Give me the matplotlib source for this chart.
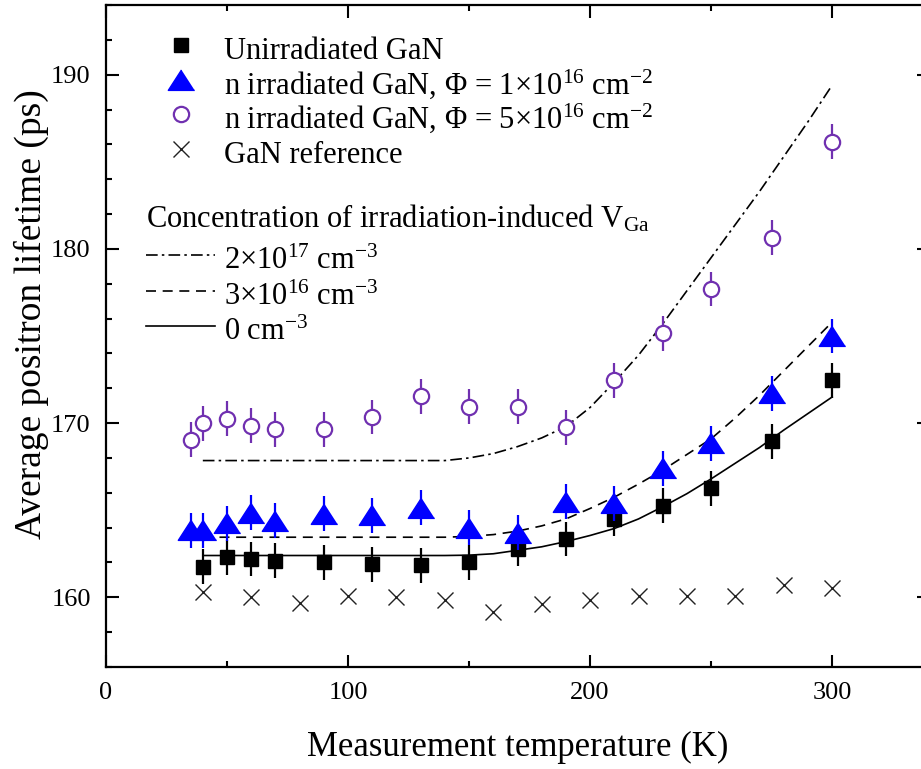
import matplotlib
matplotlib.use("Agg")
import matplotlib.pyplot as plt
from matplotlib.lines import Line2D
from matplotlib.ticker import MultipleLocator

plt.rcParams['font.family'] = ['Liberation Serif', 'DejaVu Serif']
plt.rcParams['mathtext.fontset'] = 'custom'
plt.rcParams['mathtext.rm'] = 'Liberation Serif'
plt.rcParams['mathtext.it'] = 'Liberation Serif:italic'
plt.rcParams['mathtext.bf'] = 'Liberation Serif:bold'
plt.rcParams['mathtext.default'] = 'regular'

# ---------------- data ----------------
T_unirr = [40, 50, 60, 70, 90, 110, 130, 150, 170, 190, 210, 230, 250, 275, 300]
tau_unirr = [161.75, 162.3, 162.2, 162.1, 162.0, 161.9, 161.85, 162.0, 162.8, 163.35,
             164.5, 165.25, 166.25, 168.95, 172.45]

T_irr1 = [35, 40, 50, 60, 70, 90, 110, 130, 150, 170, 190, 210, 230, 250, 275, 300]
tau_irr1 = [163.85, 163.85, 164.25, 164.85, 164.4, 164.8, 164.7, 165.15, 164.0, 163.7,
            165.5, 165.4, 167.4, 168.85, 171.7, 175.0]

T_irr5 = [35, 40, 50, 60, 70, 90, 110, 130, 150, 170, 190, 210, 230, 250, 275, 300]
tau_irr5 = [169.05, 170.0, 170.25, 169.85, 169.65, 169.65, 170.35, 171.55, 170.95, 170.95,
            169.75, 172.45, 175.15, 177.7, 180.65, 186.15]

T_ref = [40, 60, 80, 100, 120, 140, 160, 180, 200, 220, 240, 260, 280, 300]
tau_ref = [160.3, 160.0, 159.7, 160.05, 160.0, 159.85, 159.15, 159.6, 159.85, 160.05,
           160.1, 160.05, 160.7, 160.55]

err = 1.0

T_model = [40, 50, 60, 70, 80, 90, 100, 110, 120, 130, 140, 150, 160, 170, 180, 190,
           200, 210, 220, 230, 240, 250, 260, 270, 280, 290, 300]
model_0 = [162.4, 162.4, 162.4, 162.4, 162.4, 162.4, 162.4, 162.4, 162.4, 162.4, 162.4,
           162.42, 162.5, 162.7, 162.9, 163.2, 163.55, 163.95, 164.5, 165.2, 165.95,
           166.8, 167.7, 168.6, 169.6, 170.55, 171.5]
model_3e16 = [163.45, 163.45, 163.45, 163.45, 163.45, 163.45, 163.45, 163.45, 163.45,
              163.45, 163.45, 163.5, 163.6, 163.8, 164.1, 164.5, 165.1, 165.75, 166.5,
              167.3, 168.2, 169.1, 170.3, 171.6, 173.0, 174.4, 175.8]
model_2e17 = [167.85, 167.85, 167.85, 167.85, 167.85, 167.85, 167.85, 167.85, 167.85,
              167.85, 167.85, 168.0, 168.25, 168.65, 169.15, 169.8, 170.9, 172.35, 173.9,
              175.7, 177.6, 179.5, 181.4, 183.3, 185.3, 187.3, 189.4]

lab_unirr = 'Unirradiated GaN'
lab_irr1 = r'n irradiated GaN, $\Phi$ = 1$\times$10$^{16}$ cm$^{-2}$'
lab_irr5 = r'n irradiated GaN, $\Phi$ = 5$\times$10$^{16}$ cm$^{-2}$'
lab_ref = 'GaN reference'
lab_conc = r'Concentration of irradiation-induced V$_{Ga}$'
lab_m1 = r'2$\times$10$^{17}$ cm$^{-3}$'
lab_m2 = r'3$\times$10$^{16}$ cm$^{-3}$'
lab_m3 = r'0 cm$^{-3}$'

BLUE = '#0000FF'
PURPLE = '#7030B0'

# ---------------- figure ----------------
W, H = 921, 769
fig = plt.figure(figsize=(W / 100, H / 100), dpi=100)
ax = fig.add_axes([106 / W, 102 / H, 823 / W, 662 / H])

lw_model = 1.2
ls_dashdot = (0, (7, 2.5, 1.5, 2.5))
ls_dash = (0, (6, 4))
ax.plot(T_model, model_2e17, color='black', lw=lw_model, ls=ls_dashdot, zorder=2)
ax.plot(T_model, model_3e16, color='black', lw=lw_model, ls=ls_dash, zorder=2)
ax.plot(T_model, model_0, color='black', lw=lw_model, ls='-', zorder=2)

ax.plot(T_ref, tau_ref, ls='none', marker='x', ms=12, mew=1.0, color='#222222', zorder=3)

ax.errorbar(T_unirr, tau_unirr, yerr=err, fmt='s', ms=10, color='black', mfc='black',
            mec='black', elinewidth=1.6, capsize=0, zorder=4)

tri = [(0, 0.8), (-1, -0.75), (1, -0.75)]
ax.errorbar(T_irr1, tau_irr1, yerr=err, fmt='none', ecolor=BLUE, elinewidth=1.6,
            capsize=0, zorder=5)
ax.plot(T_irr1, tau_irr1, ls='none', marker=tri, ms=19, color=BLUE, mec=BLUE, zorder=5)

ax.errorbar(T_irr5, tau_irr5, yerr=err, fmt='none', ecolor=PURPLE, elinewidth=1.6,
            capsize=0, zorder=6)
ax.plot(T_irr5, tau_irr5, ls='none', marker='o', ms=11, mfc='white', mec=PURPLE,
        mew=1.6, zorder=6)

ax.set_xlim(0, 340)
ax.set_ylim(156, 194)
ax.xaxis.set_major_locator(MultipleLocator(100))
ax.xaxis.set_minor_locator(MultipleLocator(50))
ax.yaxis.set_major_locator(MultipleLocator(10))
ax.yaxis.set_minor_locator(MultipleLocator(2))
ax.tick_params(which='both', direction='in', top=True, right=True, width=1.5,
               labelsize=19, pad=11)
ax.tick_params(which='major', length=9)
ax.tick_params(which='minor', length=4.5)
for s in ax.spines.values():
    s.set_linewidth(1.6)

ax.set_xlabel('Measurement temperature (K)', fontsize=25, labelpad=19)
ax.set_ylabel('Average positron lifetime (ps)', fontsize=27)
ax.yaxis.set_label_coords(-0.0695, (667 - 314) / 662)

# ---------------- legends ----------------
fs = 22
h_unirr = Line2D([], [], ls='none', marker='s', ms=10, color='black')
h_irr1 = Line2D([], [], ls='none', marker=tri, ms=19, color=BLUE)
h_irr5 = Line2D([], [], ls='none', marker='o', ms=11, mfc='white', mec=PURPLE, mew=1.6)
h_ref = Line2D([], [], ls='none', marker='x', ms=12, mew=1.0, color='#222222')
leg1 = ax.legend([h_unirr, h_irr1, h_irr5, h_ref], [lab_unirr, lab_irr1, lab_irr5, lab_ref],
                 loc='upper left', bbox_to_anchor=(0.0486, 0.960), frameon=False,
                 fontsize=fs, handlelength=2.26, handletextpad=0.29, handleheight=1.36,
                 labelspacing=0.0, borderpad=0, borderaxespad=0)
ax.add_artist(leg1)

ax.text(0.0486, (667 - 228) / 662, lab_conc, transform=ax.transAxes, fontsize=fs,
        ha='left', va='baseline')

h_m1 = Line2D([], [], color='black', lw=lw_model, ls=ls_dashdot)
h_m2 = Line2D([], [], color='black', lw=lw_model, ls=ls_dash)
h_m3 = Line2D([], [], color='black', lw=lw_model, ls='-')
leg2 = ax.legend([h_m1, h_m2, h_m3], [lab_m1, lab_m2, lab_m3],
                 loc='upper left', bbox_to_anchor=(0.0486, 0.6427), frameon=False,
                 fontsize=fs, handlelength=2.26, handletextpad=0.29, handleheight=1.41,
                 labelspacing=0.0, borderpad=0, borderaxespad=0)

fig.savefig('out.png', dpi=100)
